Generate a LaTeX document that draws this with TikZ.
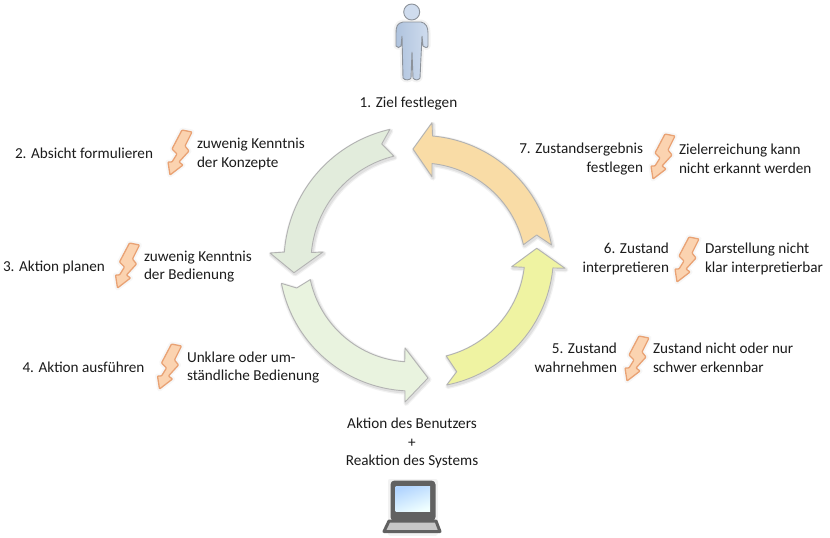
\documentclass[tikz,border=0pt]{standalone}
\usepackage{fontspec}
\setmainfont{Carlito}
\usetikzlibrary{shadings}
\definecolor{txt}{HTML}{1C1C1C}
\definecolor{ringO}{HTML}{F9DCA6}
\definecolor{ringY}{HTML}{EFF3A2}
\definecolor{ringG}{HTML}{E2ECDC}
\definecolor{ringL}{HTML}{E9F3DF}
\definecolor{boltF}{HTML}{FBD3B0}
\definecolor{boltE}{HTML}{E9A274}
\definecolor{manA}{HTML}{AFC3DE}
\definecolor{manB}{HTML}{CFDCEE}
\definecolor{manE}{HTML}{8C929A}
\tikzset{
  lbl/.style={inner sep=0pt,outer sep=0pt,text=txt,font=\fontsize{15.2}{18.8}\selectfont},
  lleft/.style={lbl,anchor=west,align=left},
  lmid/.style={lbl,anchor=center,align=center},
  lright/.style={lbl,anchor=east,align=right},
  softa/.style={draw=black,draw opacity=.05,line width=5pt,line join=round,fill=none},
  softb/.style={draw=black,draw opacity=.07,line width=2.6pt,line join=round,fill=none},
  ringedge/.style={draw=#1,line width=.9pt,line join=round},
}
\newcommand\ringfig[9]{%
  \def\RP{plot[domain=#4:#5,samples=50,smooth] ({\Cx+#2*cos(\x)},{\Cy+#2*sin(\x)}) #8 -- plot[domain=#6:#7,samples=50,smooth] ({\Cx+#3*cos(\x)},{\Cy+#3*sin(\x)}) -- #9 -- cycle}%
  \draw[softa,shift={(1,1.5)}] \RP;
  \draw[softb,shift={(1,1.5)}] \RP;
  \draw[ringedge=black!30,fill=#1] \RP;
}
\newcommand\boltfig[2]{%
  \begin{scope}[shift={(#1,#2)}]
    \def\BP{(14,1) -- (24,3) -- (17,17) -- (21,22) -- (11,33) -- (15,36) -- (2,46) -- (0,33) -- (4,33) -- (9,25) -- (4,20) -- cycle}%
    \draw[softa,draw opacity=.03] \BP;
    \draw[line width=1.3pt,draw=boltE,line join=round,fill=boltF,rounded corners=.8pt] \BP;
  \end{scope}
}
\begin{document}
\begin{tikzpicture}[x=1pt,y=-1pt]
\useasboundingbox (0,0) rectangle (830,538);
\fill[white] (0,0) rectangle (830,538);

% ---- cycle arrows
\def\Cx{421}\def\Cy{268}
\ringfig{ringO}{132.5}{105}{-10}{-85}{-84}{-12.8}{-- (432,122.7) -- (413,149) -- (432,176.7)}{(536.7,235)}
\def\Cx{421}\def\Cy{255}
\ringfig{ringY}{132.5}{104}{78.8}{5.6}{6.8}{76}{-- (565,268.3) -- (536.7,248.3) -- (511.7,266.7)}{(456.7,371.7)}
\def\Cx{420}\def\Cy{262}
\ringfig{ringG}{136}{109}{257.2}{184.2}{185}{256.1}{-- (270,253) -- (294,272.7) -- (323,252)}{(381.7,144)}
\def\Cx{412}\def\Cy{258}
\ringfig{ringL}{133}{104}{169}{93}{94}{168}{-- (405,402) -- (428,378) -- (405,348)}{(296.7,288)}

% ---- person
\begin{scope}
 \def\PB{(403,22) .. controls (397,23) and (396,27) .. (396,33) -- (396,46) .. controls (397,48) and (400,48) .. (401,46) -- (402,36) -- (403,78) .. controls (405,81) and (410,80) .. (411,78) -- (412,52) -- (413,78) .. controls (415,81) and (419,80) .. (420,78) -- (422,36) -- (423,46) .. controls (424,48) and (428,48) .. (428,46) -- (428,33) .. controls (428,27) and (426,23) .. (421,22) -- cycle}
 \draw[softa] \PB;
 \draw[line width=.9pt,draw=manE,left color=manA,right color=manB] \PB;
 \draw[line width=.9pt,draw=manE,fill=manB] (411.7,12) circle (8);
\end{scope}

% ---- laptop
\draw[softa] (390,481) rectangle (435,533);
\fill[black!62,rounded corners=4pt] (390.5,480.5) rectangle (435.5,521);
\shade[top color=cyan!45!blue!30!white,bottom color=cyan!6!white,shading angle=20] (395.5,486) rectangle (430,511.5);
\draw[line width=3pt,draw=black!62,fill=black!22,line join=round] (389,521) -- (436,521) -- (440,531.5) -- (384,531.5) -- cycle;

% ---- bolts
\boltfig{168}{129}
\boltfig{115.5}{242}
\boltfig{157.5}{343}
\boltfig{625}{335}
\boltfig{675}{236}
\boltfig{651}{133}

% ---- texts
\node[lmid]   (t1)  at (408.5,104) {1. Ziel festlegen};
\node[lleft]  (t2)  at (15,153.5)   {2. Absicht formulieren};
\node[lleft]  (p2)  at (197,154) {zuwenig Kenntnis\\der Konzepte};
\node[lleft]  (t3)  at (3,267)    {3. Aktion planen};
\node[lleft]  (p3)  at (144,266.5) {zuwenig Kenntnis\\der Bedienung};
\node[lleft]  (t4)  at (22.5,367)   {4. Aktion ausführen};
\node[lleft]  (p4)  at (187,367.5)  {Unklare oder um-\\ständliche Bedienung};
\node[lmid]   (sys) at (412,443)  {Aktion des Benutzers\\+\\Reaktion des Systems};
\node[lright] (t5)  at (617,358) {5. Zustand\\wahrnehmen};
\node[lleft]  (p5)  at (653,358) {Zustand nicht oder nur\\schwer erkennbar};
\node[lright] (t6)  at (669,259)  {6. Zustand\\interpretieren};
\node[lleft]  (p6)  at (705,259)  {Darstellung nicht\\klar interpretierbar};
\node[lright] (t7)  at (643,159) {7. Zustandsergebnis\\festlegen};
\node[lleft]  (p7)  at (679,159) {Zielerreichung kann\\nicht erkannt werden};
\end{tikzpicture}
\end{document}
